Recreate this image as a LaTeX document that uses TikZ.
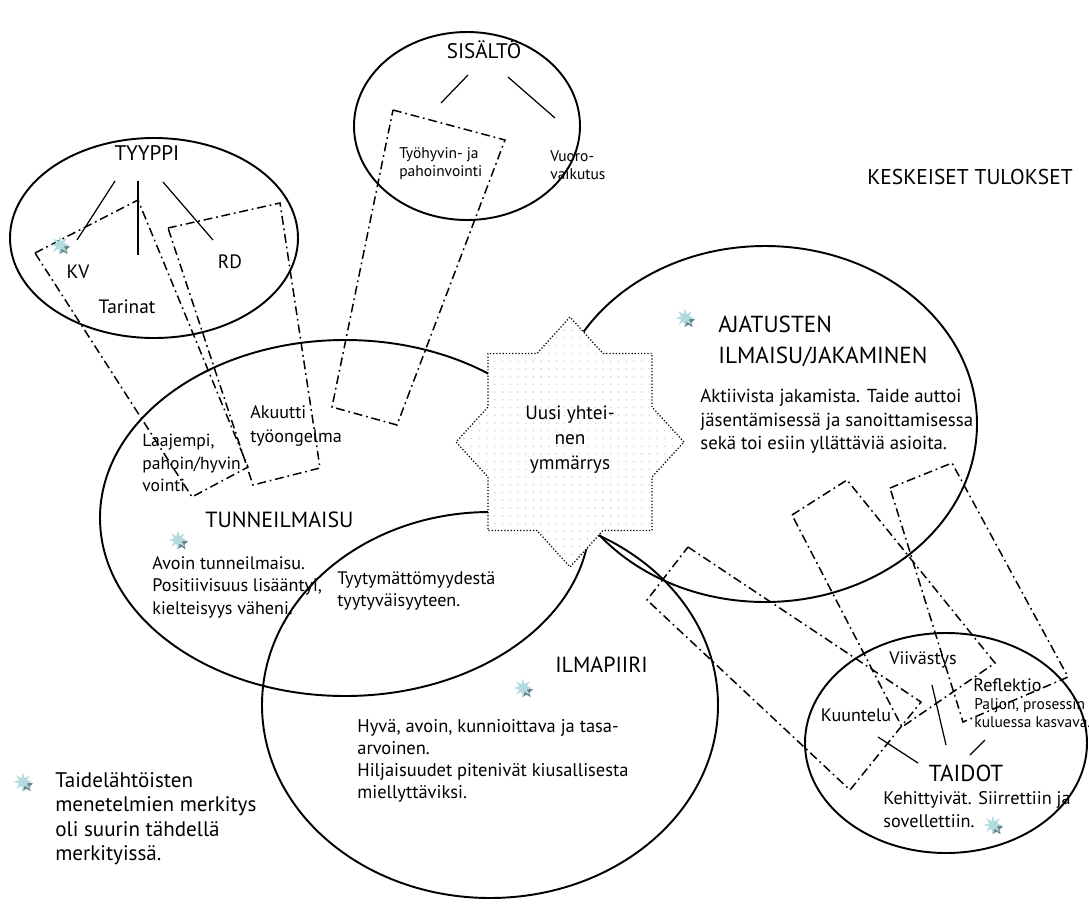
\documentclass[tikz,border=0pt]{standalone}
\usepackage{fontspec}
\setmainfont{PT Sans}
\usetikzlibrary{shapes.geometric,patterns.meta}
\definecolor{StarClr}{rgb}{0.70,0.86,0.88}
\definecolor{StarShadeClr}{rgb}{0.42,0.52,0.54}
\definecolor{DotClr}{rgb}{0.66,0.86,0.90}

\tikzset{
  rim/.style={line width=1.1pt},
  branch/.style={line width=0.7pt},
  boxline/.style={line width=0.85pt,dash pattern=on 5pt off 2.2pt on 1pt off 2.2pt},
  headtxt/.style={font=\fontsize{12.5}{18}\selectfont,inner sep=0pt},
  bodytxt/.style={font=\fontsize{10.3}{13}\selectfont,inner sep=0pt,align=left},
  smalltxt/.style={font=\fontsize{8.8}{10.5}\selectfont,inner sep=0pt,align=left},
  legendtxt/.style={font=\fontsize{12}{13.9}\selectfont,inner sep=0pt,align=left},
  starlight/.style={star,star points=8,star point ratio=2.4,fill=StarClr,inner sep=0pt,minimum size=11pt},
  starshade/.style={star,star points=5,star point ratio=2.2,fill=StarShadeClr,inner sep=0pt,minimum size=8pt}
}
\newcommand{\Tahti}[2]{%
  \node[starshade,xshift=2pt,yshift=-2pt] (#1s) at #2 {};
  \node[starlight] (#1) at #2 {};}

\begin{document}
\begin{tikzpicture}[x=0.02cm,y=-0.02cm]
\useasboundingbox (0,0) rectangle (1089,910);

% The ovals of the results.
\draw[rim] (154,238) ellipse [x radius=144,y radius=100];
\draw[rim] (467,126) ellipse [x radius=113,y radius=94];
\draw[rim] (345,518) ellipse [x radius=245,y radius=178];
\draw[rim] (490,705) ellipse [x radius=228,y radius=193];
\draw[rim] (765,424) ellipse [x radius=212,y radius=178];
\draw[rim] (946,743) ellipse [x radius=141,y radius=110];

% Ends of the branches under the headings.
\coordinate (Ta) at (115,181); \coordinate (Ta') at (77,240);
\coordinate (Tb) at (138,181); \coordinate (Tb') at (138,255);
\coordinate (Tc) at (163,182); \coordinate (Tc') at (213,240);
\coordinate (Sa) at (468,75);  \coordinate (Sa') at (441,103);
\coordinate (Sb) at (508,77);  \coordinate (Sb') at (555,118);
\coordinate (Da) at (918,763); \coordinate (Da') at (878,737);
\coordinate (Db) at (946,745); \coordinate (Db') at (932,685);
\coordinate (Dc) at (970,755); \coordinate (Dc') at (985,740);

\foreach \p in {Ta,Tb,Tc,Sa,Sb,Da,Db,Dc}
  \draw[branch] (\p) -- (\p');

% The dash-dot frames.
\draw[boxline] (35,253) -- (138,200) -- (248,467) -- (192,497) -- cycle;
\draw[boxline] (168,228) -- (280,203) -- (320,468) -- (253,485) -- cycle;
\draw[boxline] (393,110) -- (505,140) -- (397,425) -- (332,407) -- cycle;
\draw[boxline] (688,547) -- (921,702) -- (850,790) -- (647,600) -- cycle;
\draw[boxline] (792,515) -- (847,480) -- (995,663) -- (902,727) -- cycle;
\draw[boxline] (890,488) -- (952,463) -- (1068,677) -- (963,722) -- cycle;

% The eight-pointed star in the middle.
\begin{scope}[shift={(570,442)}]
\fill[white] (114,0) -- (82,-35) -- (82,-88.5) -- (33,-88.5) -- (0,-125)
  -- (-33,-88.5) -- (-82,-88.5) -- (-82,-35) -- (-114,0) -- (-82,35)
  -- (-82,88.5) -- (-33,88.5) -- (0,125) -- (33,88.5) -- (82,88.5)
  -- (82,35) -- cycle;
\draw[line width=0.7pt,dash pattern=on 0.7pt off 1.1pt,
  pattern={Dots[distance=4.4pt,radius=0.45pt]},pattern color=DotClr]
  (114,0) -- (82,-35) -- (82,-88.5) -- (33,-88.5) -- (0,-125)
  -- (-33,-88.5) -- (-82,-88.5) -- (-82,-35) -- (-114,0) -- (-82,35)
  -- (-82,88.5) -- (-33,88.5) -- (0,125) -- (33,88.5) -- (82,88.5)
  -- (82,35) -- cycle;
\end{scope}
\node[bodytxt,align=center,font=\fontsize{11}{14.2}\selectfont] (uusi) at (570,440)
  {Uusi yhtei-\\nen\\ymmärrys};

% Headings.
\node[headtxt,font=\fontsize{12}{18}\selectfont] (tyyppi) at (147,153) {TYYPPI};
\node[headtxt,font=\fontsize{12}{18}\selectfont] (sisalto) at (484,50) {SISÄLTÖ};
\node[headtxt,font=\fontsize{12.2}{18}\selectfont] (keskeiset) at (970,177) {KESKEISET TULOKSET};
\node[headtxt,align=left,anchor=north west,font=\fontsize{13.2}{17.6}\selectfont] (ajatus) at (718,316)
  {AJATUSTEN\\ILMAISU/JAKAMINEN};
\node[headtxt,anchor=west] (tunne) at (205,520) {TUNNEILMAISU};
\node[headtxt,anchor=west] (ilma) at (555,665) {ILMAPIIRI};
\node[headtxt,font=\fontsize{13.2}{18}\selectfont] (taidot) at (966,773) {TAIDOT};

% Labels in the ovals.
\node[bodytxt,font=\fontsize{11}{13}\selectfont] (kv) at (78,272) {KV};
\node[bodytxt,font=\fontsize{11}{13}\selectfont] (rd) at (230,262) {RD};
\node[bodytxt,font=\fontsize{11}{13}\selectfont] (tarinat) at (127,307) {Tarinat};
\node[smalltxt,anchor=north west] (tyohyv) at (399,147) {Työhyvin- ja\\pahoinvointi};
\node[smalltxt,anchor=north west] (vuoro) at (550,150) {Vuoro-\\vaikutus};
\node[bodytxt,anchor=north west,font=\fontsize{10}{12.8}\selectfont] (laaja) at (142,434) {Laajempi,\\pahoin/hyvin\\vointi};
\node[bodytxt,anchor=north west,font=\fontsize{10.3}{13.6}\selectfont] (akuutti) at (250,405)
  {Akuutti\\työongelma};
\node[bodytxt,anchor=north west,font=\fontsize{10.7}{13.3}\selectfont] (aktiivi) at (700,389)
  {Aktiivista jakamista. Taide auttoi\\jäsentämisessä ja sanoittamisessa\\sekä toi esiin yllättäviä asioita.};
\node[bodytxt,anchor=north west,font=\fontsize{10.3}{12.8}\selectfont] (avoin) at (152,556)
  {Avoin tunneilmaisu.\\Positiivisuus lisääntyi,\\kielteisyys väheni.};
\node[bodytxt,anchor=north west] (tyyty) at (337,571)
  {Tyytymättömyydestä\\tyytyväisyyteen.};
\node[bodytxt,anchor=north west,font=\fontsize{10.5}{12.6}\selectfont] (hyva) at (357,719)
  {Hyvä, avoin, kunnioittava ja tasa-\\arvoinen.\\Hiljaisuudet pitenivät kiusallisesta\\miellyttäviksi.};
\node[bodytxt] (viive) at (923,660) {Viivästys};
\node[bodytxt,anchor=west] (reflek) at (973,685) {Reflektio};
\node[bodytxt] (kuunt) at (856,715) {Kuuntelu};
\node[smalltxt,anchor=north west] (paljon) at (974,698)
  {Paljon, prosessin\\kuluessa kasvava.};
\node[smalltxt,anchor=north west,font=\fontsize{10.4}{13}\selectfont] (kehit) at (883,791)
  {Kehittyivät. Siirrettiin ja\\sovellettiin.};

% Legend.
\node[legendtxt,anchor=north west] (selite) at (55,772)
  {Taidelähtöisten\\menetelmien merkitys\\oli suurin tähdellä\\merkityissä.};

% Star marks.
\Tahti{kvstar}{(60,245)}
\Tahti{ajstar}{(685,318)}
\Tahti{tustar}{(178,540)}
\Tahti{ilstar}{(523,688)}
\Tahti{tastar}{(993,825)}
\Tahti{sestar}{(23,782)}

\end{tikzpicture}
\end{document}
